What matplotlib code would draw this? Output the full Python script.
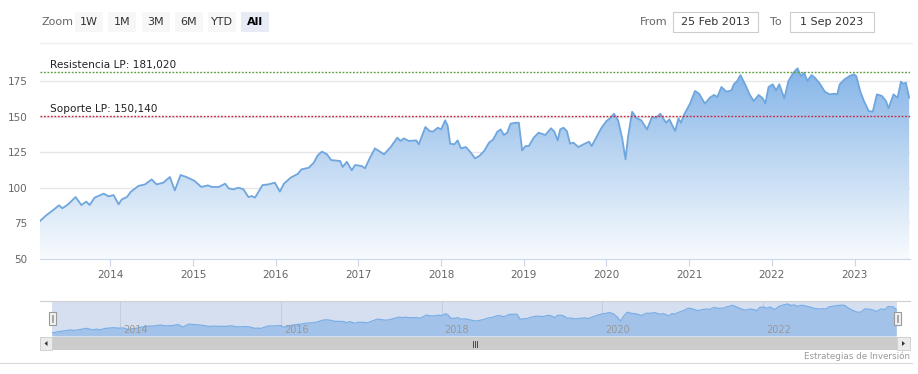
import matplotlib
matplotlib.use('Agg')
import matplotlib.pyplot as plt
import numpy as np
from matplotlib.colors import LinearSegmentedColormap
from matplotlib.patches import Rectangle, Polygon

W, H = 918, 374

# price series (decimal year, value)
YEARS = [2013.15, 2013.23, 2013.31, 2013.38, 2013.42, 2013.49, 2013.58, 2013.65, 2013.71, 2013.75,
         2013.81, 2013.92, 2013.98, 2014.04, 2014.10, 2014.14, 2014.20, 2014.25, 2014.34, 2014.42,
         2014.50, 2014.56, 2014.64, 2014.72, 2014.78, 2014.85, 2014.92, 2015.02, 2015.10, 2015.18,
         2015.23, 2015.31, 2015.39, 2015.43, 2015.49, 2015.55, 2015.61, 2015.67, 2015.71, 2015.75,
         2015.84, 2015.91, 2015.99, 2016.05, 2016.10, 2016.18, 2016.27, 2016.31, 2016.40, 2016.46,
         2016.51, 2016.56, 2016.62, 2016.67, 2016.78, 2016.81, 2016.86, 2016.92, 2016.96, 2017.04,
         2017.08, 2017.14, 2017.20, 2017.26, 2017.31, 2017.39, 2017.47, 2017.51, 2017.55, 2017.61,
         2017.70, 2017.73, 2017.81, 2017.86, 2017.90, 2017.96, 2018.00, 2018.05, 2018.08, 2018.11,
         2018.16, 2018.20, 2018.24, 2018.30, 2018.36, 2018.41, 2018.46, 2018.52, 2018.58, 2018.63,
         2018.68, 2018.72, 2018.76, 2018.80, 2018.84, 2018.90, 2018.94, 2018.98, 2019.02, 2019.06,
         2019.12, 2019.18, 2019.26, 2019.33, 2019.37, 2019.41, 2019.44, 2019.48, 2019.52, 2019.56,
         2019.60, 2019.66, 2019.72, 2019.79, 2019.82, 2019.88, 2019.94, 2020.00, 2020.05, 2020.09,
         2020.14, 2020.19, 2020.23, 2020.26, 2020.31, 2020.36, 2020.42, 2020.49, 2020.55, 2020.60,
         2020.65, 2020.72, 2020.76, 2020.83, 2020.87, 2020.90, 2020.94, 2021.01, 2021.07, 2021.12,
         2021.19, 2021.25, 2021.30, 2021.34, 2021.39, 2021.45, 2021.51, 2021.54, 2021.58, 2021.62,
         2021.68, 2021.73, 2021.78, 2021.84, 2021.89, 2021.92, 2021.96, 2022.01, 2022.05, 2022.09,
         2022.15, 2022.20, 2022.26, 2022.31, 2022.35, 2022.39, 2022.43, 2022.48, 2022.52, 2022.58,
         2022.64, 2022.70, 2022.75, 2022.79, 2022.82, 2022.88, 2022.94, 2022.99, 2023.02, 2023.07,
         2023.11, 2023.17, 2023.22, 2023.27, 2023.33, 2023.38, 2023.41, 2023.47, 2023.52, 2023.56,
         2023.59, 2023.62, 2023.66]
PRICES = [76.7, 80.9, 84.4, 87.7, 85.6, 88.4, 93.5, 87.9, 90.3, 87.9,
          93.1, 95.9, 94.0, 94.9, 88.4, 91.9, 93.5, 97.3, 101.3, 102.4,
          105.9, 102.4, 103.6, 107.6, 98.2, 109.0, 107.6, 104.8, 100.6, 101.7,
          100.6, 100.6, 102.9, 99.6, 98.9, 100.1, 98.9, 93.5, 94.2, 93.1,
          101.9, 102.4, 103.6, 97.3, 102.9, 107.1, 109.9, 112.9, 114.1, 117.6,
          123.0, 125.4, 123.5, 119.5, 118.8, 114.6, 118.3, 112.3, 116.0, 115.3,
          113.7, 121.1, 127.7, 125.4, 123.5, 128.6, 135.2, 132.9, 134.7, 132.9,
          133.3, 130.5, 142.7, 139.9, 139.4, 142.2, 141.0, 147.4, 143.4, 131.0,
          130.5, 133.3, 127.7, 128.6, 124.7, 120.7, 122.3, 125.8, 131.7, 134.0,
          139.4, 141.0, 137.1, 138.7, 145.0, 145.7, 145.7, 126.3, 129.3, 129.3,
          135.2, 138.7, 137.1, 141.8, 139.4, 133.3, 141.0, 142.2, 139.9, 131.0,
          131.7, 128.6, 130.5, 132.4, 129.3, 135.7, 142.2, 146.9, 149.2, 152.0,
          147.4, 134.7, 120.0, 135.7, 153.4, 149.2, 147.4, 141.0, 149.7, 149.2,
          152.0, 145.7, 148.1, 139.9, 148.8, 145.7, 151.6, 159.1, 168.0, 166.1,
          159.1, 163.3, 165.2, 163.8, 170.8, 167.5, 168.4, 172.7, 175.0, 179.2,
          172.2, 165.6, 160.9, 165.2, 162.8, 159.1, 170.8, 172.7, 168.4, 172.7,
          162.8, 175.0, 180.8, 183.9, 178.5, 180.8, 175.0, 179.2, 177.3, 173.1,
          167.5, 165.6, 166.1, 165.6, 172.7, 176.2, 178.5, 179.7, 178.5, 167.5,
          161.4, 153.9, 153.5, 165.6, 164.5, 160.9, 155.8, 165.6, 163.3, 174.5,
          173.1, 173.8, 163.3]

RESISTENCIA = 181.02
SOPORTE = 150.14
Y_TICKS = [50, 75, 100, 125, 150, 175]
X_TICKS = list(range(2014, 2024))
NAV_TICKS = [2014, 2016, 2018, 2020, 2022]
BUTTONS = ['1W', '1M', '3M', '6M', 'YTD', 'All']
FROM_DATE = '25 Feb 2013'
TO_DATE = '1 Sep 2023'

X0, X1 = 2013.15, 2023.67
GREY = '#666666'


def box(l, t, r, b):
    # pixel box -> figure fraction rect
    return [l / W, 1 - b / H, (r - l) / W, (b - t) / H]


def es_num(v):
    return f'{v:,.3f}'.replace('.', ',')


fig = plt.figure(figsize=(W / 100, H / 100), dpi=100)
fig.patch.set_facecolor('white')

# ---- main chart ----
ax = fig.add_axes(box(40, 52, 910, 259))
ylo, yhi = 50, 50 + (259 - 52) / 1.424
ax.set_xlim(X0, X1)
ax.set_ylim(ylo, yhi)

cmap = LinearSegmentedColormap.from_list('g', ['#f8fbfe', '#bcd6f2', '#7aaee6'])
grad = np.linspace(0, 1, 256).reshape(-1, 1)
poly = ax.fill_between(YEARS, PRICES, ylo, facecolor='none', edgecolor='none')
img = ax.imshow(grad, extent=[X0, X1, ylo, yhi], origin='lower', aspect='auto',
                cmap=cmap, zorder=1)
img.set_clip_path(poly.get_paths()[0], transform=ax.transData)
ax.plot(YEARS, PRICES, color='#6fa6de', linewidth=1.3, zorder=3)

ax.axhline(RESISTENCIA, color='#5a9e3c', linestyle=(0, (1.3, 1.2)), linewidth=1, zorder=4)
ax.axhline(SOPORTE, color='#c42a3e', linestyle=(0, (1.3, 1.2)), linewidth=1, zorder=4)
ax.text(X0 + 10 / 82.8, RESISTENCIA + 1.6, f'Resistencia LP: {es_num(RESISTENCIA)}',
        fontsize=7.6, color='#222222', va='bottom', zorder=5)
ax.text(X0 + 10 / 82.8, SOPORTE + 1.6, f'Soporte LP: {es_num(SOPORTE)}',
        fontsize=7.6, color='#222222', va='bottom', zorder=5)

ax.set_yticks(Y_TICKS)
ax.set_xticks(X_TICKS)
ax.set_xticklabels([str(y) for y in X_TICKS])
ax.grid(axis='y', color='#e6e6e6', linewidth=1, zorder=0)
ax.set_axisbelow(True)
for s in ['top', 'right', 'left']:
    ax.spines[s].set_visible(False)
ax.spines['bottom'].set_color('#ccd6eb')
ax.tick_params(axis='y', length=0, pad=9, labelsize=7.5, labelcolor=GREY)
ax.tick_params(axis='x', length=5, color='#ccd6eb', pad=3, labelsize=7.5, labelcolor=GREY)

# ---- navigator ----
nav = fig.add_axes(box(52, 301, 897, 336))
nav.set_xlim(X0, X1)
nav.set_ylim(65, 195)
nav.set_facecolor('#d6dff0')
nav.fill_between(YEARS, PRICES, 65, color='#a2c2ea', linewidth=0)
nav.plot(YEARS, PRICES, color='#7aaee6', linewidth=0.9)
for yr in NAV_TICKS:
    nav.axvline(yr, color='#c4cde0', linewidth=0.8, zorder=0.5)
    nav.text(yr + 3 / 80.5, 69, str(yr), fontsize=7, color='#999999', va='bottom')
nav.set_xticks([])
nav.set_yticks([])
for s in nav.spines.values():
    s.set_visible(False)

# ---- overlay in pixel coordinates for UI pieces ----
ui = fig.add_axes([0, 0, 1, 1], zorder=10)
ui.set_xlim(0, W)
ui.set_ylim(H, 0)
ui.axis('off')
ui.patch.set_alpha(0)

ui.text(41, 22, 'Zoom', fontsize=8, color=GREY, va='center')
bx = [75, 108, 142, 175, 208, 241]
for lbl, l in zip(BUTTONS, bx):
    active = lbl == 'All'
    ui.add_patch(Rectangle((l, 12), 28, 20, facecolor='#e6ebf5' if active else '#f7f7f7',
                           edgecolor='none'))
    ui.text(l + 14, 22, lbl, fontsize=8, ha='center', va='center',
            color='#000000' if active else '#333333',
            fontweight='bold' if active else 'normal')

ui.text(640, 22, 'From', fontsize=8, color=GREY, va='center')
ui.add_patch(Rectangle((673, 12), 85, 20, facecolor='white', edgecolor='#cccccc', linewidth=0.8))
ui.text(715.5, 22, FROM_DATE, fontsize=8, color='#333333', ha='center', va='center')
ui.text(770, 22, 'To', fontsize=8, color=GREY, va='center')
ui.add_patch(Rectangle((790, 12), 84, 20, facecolor='white', edgecolor='#cccccc', linewidth=0.8))
ui.text(832, 22, TO_DATE, fontsize=8, color='#333333', ha='center', va='center')
ui.plot([40, 912], [43, 43], color='#eeeeee', linewidth=1)

# navigator outline and handles
ui.plot([40, 910], [301, 301], color='#d0d0d0', linewidth=0.8)
for hx in (49, 894):
    ui.add_patch(Rectangle((hx, 312), 7, 13, facecolor='#f2f2f2', edgecolor='#999999', linewidth=0.8))
    ui.plot([hx + 2.6, hx + 2.6], [315, 322], color='#999999', linewidth=0.6)
    ui.plot([hx + 4.4, hx + 4.4], [315, 322], color='#999999', linewidth=0.6)

# scrollbar
ui.add_patch(Rectangle((40, 337), 870, 13, facecolor='#f2f2f2', edgecolor='none'))
ui.add_patch(Rectangle((52, 337), 845, 13, facecolor='#cccccc', edgecolor='none'))
ui.add_patch(Rectangle((40, 337), 12, 13, facecolor='#ebebeb', edgecolor='#cccccc', linewidth=0.6))
ui.add_patch(Rectangle((897, 337), 13, 13, facecolor='#ebebeb', edgecolor='#cccccc', linewidth=0.6))
ui.add_patch(Polygon([[47.5, 341], [47.5, 346], [44.5, 343.5]], closed=True, facecolor='#333333'))
ui.add_patch(Polygon([[902, 341], [902, 346], [905, 343.5]], closed=True, facecolor='#333333'))
for gx in (473, 475, 477):
    ui.plot([gx, gx], [340.5, 346.5], color='#333333', linewidth=0.6)

ui.plot([0, 912], [363, 363], color='#d9d9d9', linewidth=0.8)
ui.text(910, 356, 'Estrategias de Inversión', fontsize=6.3, color='#999999',
        ha='right', va='center')

fig.savefig('out.png', dpi=100)
